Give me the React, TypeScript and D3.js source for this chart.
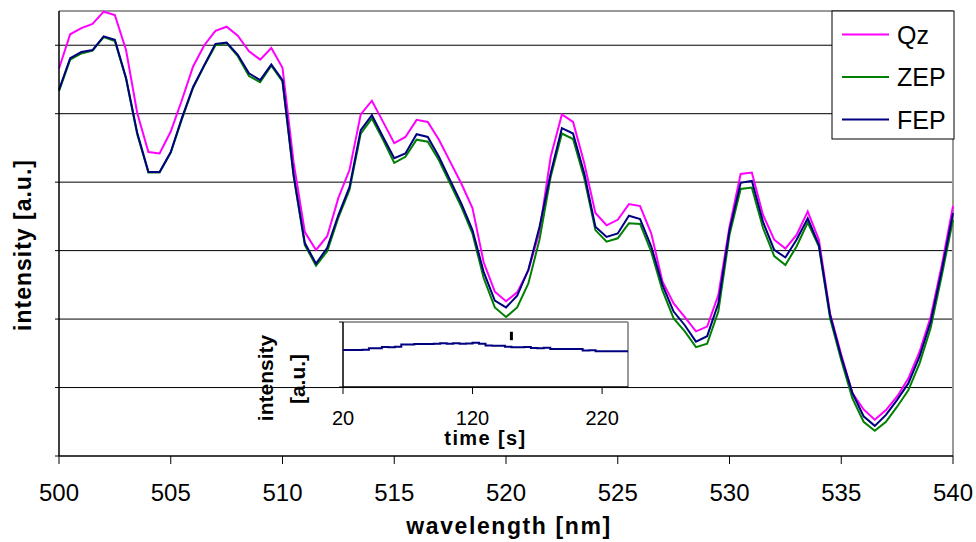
import React from "react";
import * as d3 from "d3";

// Spectral intensity of three coatings, sampled every 0.5 nm
const wavelengths: number[] = d3.range(500, 540.01, 0.5);

const qz: number[] = [
  5.66, 6.16, 6.25, 6.31, 6.49, 6.44, 5.93, 5.01, 4.44, 4.42,
  4.74, 5.2, 5.69, 6.0, 6.21, 6.27, 6.14, 5.91, 5.79, 5.96,
  5.67, 4.28, 3.27, 3.01, 3.21, 3.77, 4.18, 4.99, 5.19, 4.88,
  4.57, 4.66, 4.91, 4.88, 4.62, 4.3, 3.98, 3.62, 2.83, 2.4,
  2.26, 2.39, 2.71, 3.28, 4.37, 4.99, 4.88, 4.28, 3.55, 3.37,
  3.45, 3.68, 3.65, 3.25, 2.55, 2.23, 2.03, 1.82, 1.89, 2.35,
  3.35, 4.12, 4.14, 3.52, 3.16, 3.03, 3.23, 3.57, 3.16, 2.08,
  1.48, 0.92, 0.68, 0.53, 0.67, 0.87, 1.13, 1.52, 2.03, 2.79,
  3.65,
];

const zep: number[] = [
  5.33, 5.79, 5.88, 5.92, 6.12, 6.06, 5.51, 4.7, 4.14, 4.14,
  4.43, 4.92, 5.38, 5.7, 6.0, 6.03, 5.84, 5.55, 5.46, 5.7,
  5.47, 4.08, 3.08, 2.78, 2.99, 3.48, 3.89, 4.71, 4.93, 4.62,
  4.28, 4.37, 4.62, 4.59, 4.32, 3.98, 3.64, 3.25, 2.6, 2.17,
  2.03, 2.17, 2.52, 3.16, 4.08, 4.71, 4.63, 4.06, 3.3, 3.13,
  3.18, 3.4, 3.39, 2.98, 2.42, 2.01, 1.82, 1.59, 1.64, 2.11,
  3.23, 3.9, 3.92, 3.33, 2.92, 2.79, 3.06, 3.41, 3.06, 2.01,
  1.4, 0.84, 0.5, 0.37, 0.5, 0.72, 0.96, 1.35, 1.87, 2.64,
  3.45,
];

const fep: number[] = [
  5.35, 5.81, 5.9, 5.93, 6.13, 6.08, 5.52, 4.72, 4.15, 4.15,
  4.44, 4.94, 5.39, 5.71, 6.02, 6.04, 5.86, 5.59, 5.49, 5.72,
  5.49, 4.1, 3.11, 2.81, 3.04, 3.52, 3.93, 4.76, 4.98, 4.66,
  4.35, 4.42, 4.7, 4.66, 4.37, 4.03, 3.69, 3.3, 2.69, 2.27,
  2.17, 2.34, 2.72, 3.35, 4.13, 4.79, 4.71, 4.13, 3.35, 3.2,
  3.25, 3.51, 3.46, 3.06, 2.5, 2.11, 1.91, 1.67, 1.75, 2.23,
  3.3, 3.99, 4.02, 3.42, 3.01, 2.9, 3.16, 3.47, 3.08, 2.06,
  1.45, 0.92, 0.58, 0.44, 0.6, 0.82, 1.06, 1.45, 1.96, 2.72,
  3.55,
];

const seriesNames = ["Qz", "ZEP", "FEP"];
const seriesColors = ["#ff00ff", "#008000", "#000080"];
const seriesValues = [qz, zep, fep];

const xTicks = [500, 505, 510, 515, 520, 525, 530, 535, 540];
const yGrid = [0, 1, 2, 3, 4, 5, 6];

// Inset: intensity over time
const insetTimes: number[] = d3.range(20, 240.01, 5);
const insetValues: number[] = [
  57, 57, 57, 57.5, 59.5, 59.5, 61.5, 61, 62, 65.5,
  65.5, 66, 66, 66, 66.5, 67.5, 66.5, 67.5, 66.5, 67,
  68, 66.5, 64, 63.5, 63.5, 62, 61, 61, 61.5, 60,
  59.5, 60.5, 58.5, 58.5, 58.5, 58.5, 58.5, 56, 56.5, 55,
  55, 55, 55, 55, 55,
];
const insetTicks = [20, 120, 220];
const insetMarkTime = 150;
const insetMarkRange = [72, 85];

const FONT = "'Liberation Sans', Arial, sans-serif";

export default function App() {
  const W = 976;
  const H = 542;
  const left = 59;
  const right = 953;
  const top = 11;
  const bottom = 456;

  const x = d3.scaleLinear().domain([500, 540]).range([left, right]);
  const y = d3.scaleLinear().domain([0, 6.5]).range([bottom, top]);

  const line = (vals: number[]) =>
    d3
      .line<number>()
      .x((_, i) => x(wavelengths[i]))
      .y((d) => y(d))(vals) as string;

  // inset geometry
  const iL = 343;
  const iR = 628;
  const iT = 322;
  const iB = 387;
  const ix = d3.scaleLinear().domain([20, 240]).range([iL, iR]);
  const iy = d3.scaleLinear().domain([0, 100]).range([iB, iT]);
  const insetPath = d3
    .line<number>()
    .x((_, i) => ix(insetTimes[i]))
    .y((d) => iy(d))
    .curve(d3.curveStepAfter)(insetValues) as string;

  // legend geometry
  const lgL = 832;
  const lgT = 11;
  const lgW = 122;
  const lgH = 128;
  const lgRows = [34.5, 77, 119.5];

  return (
    <svg
      width={W}
      height={H}
      style={{ position: "absolute", left: 0, top: 0, background: "#fff" }}
      fontFamily={FONT}
    >
      <rect x={0} y={0} width={W} height={H} fill="#fff" />

      {/* horizontal grid */}
      {yGrid.slice(1).map((g) => (
        <line key={g} x1={left} x2={right} y1={y(g)} y2={y(g)} stroke="#000" strokeWidth={1} />
      ))}

      {/* plot frame: top and right in grey */}
      <line x1={left} x2={right} y1={top} y2={top} stroke="#999" strokeWidth={2} />
      <line x1={right} x2={right} y1={top} y2={bottom} stroke="#999" strokeWidth={2} />

      {/* series */}
      {seriesValues.map((vals, k) => (
        <path key={seriesNames[k]} d={line(vals)} fill="none" stroke={seriesColors[k]} strokeWidth={2} strokeLinejoin="miter" />
      ))}

      {/* y axis */}
      <line x1={left} x2={left} y1={top} y2={bottom} stroke="#000" strokeWidth={1.5} />
      {yGrid.map((g) => (
        <line key={g} x1={left - 4} x2={left} y1={y(g)} y2={y(g)} stroke="#000" strokeWidth={1} />
      ))}

      {/* x axis */}
      <line x1={left} x2={right} y1={bottom} y2={bottom} stroke="#000" strokeWidth={1.5} />
      {xTicks.map((t) => (
        <g key={t}>
          <line x1={x(t)} x2={x(t)} y1={bottom} y2={bottom + 8} stroke="#000" strokeWidth={1} />
          <text x={x(t)} y={501} fontSize={24} textAnchor="middle" fill="#000">
            {t}
          </text>
        </g>
      ))}

      <text x={509} y={534} fontSize={23} fontWeight="bold" textAnchor="middle" letterSpacing={1.6}>
        wavelength [nm]
      </text>
      <text
        transform={`translate(31,245) rotate(-90)`}
        fontSize={23}
        fontWeight="bold"
        textAnchor="middle"
        letterSpacing={1}
      >
        intensity [a.u.]
      </text>

      {/* inset */}
      <rect x={iL} y={iT} width={iR - iL} height={iB - iT} fill="#fff" />
      <line x1={iL} x2={iR} y1={iT} y2={iT} stroke="#999" strokeWidth={2} />
      <line x1={iR} x2={iR} y1={iT} y2={iB} stroke="#999" strokeWidth={2} />
      <line x1={iL} x2={iL} y1={iT} y2={iB} stroke="#000" strokeWidth={1.5} />
      <line x1={iL} x2={iR} y1={iB} y2={iB} stroke="#000" strokeWidth={1.5} />
      <line x1={iL - 4} x2={iL} y1={iT} y2={iT} stroke="#000" strokeWidth={1} />
      <line x1={iL - 4} x2={iL} y1={iB} y2={iB} stroke="#000" strokeWidth={1} />
      <path d={insetPath} fill="none" stroke="#000080" strokeWidth={2} />
      <line
        x1={ix(insetMarkTime)}
        x2={ix(insetMarkTime)}
        y1={iy(insetMarkRange[0])}
        y2={iy(insetMarkRange[1])}
        stroke="#000"
        strokeWidth={3}
      />
      {insetTicks.map((t) => (
        <g key={t}>
          <line x1={ix(t)} x2={ix(t)} y1={iB} y2={iB + 7} stroke="#000" strokeWidth={1} />
          <text x={ix(t)} y={425} fontSize={20} textAnchor="middle">
            {t}
          </text>
        </g>
      ))}
      <text x={(iL + iR) / 2} y={445} fontSize={20} fontWeight="bold" textAnchor="middle" letterSpacing={1.4}>
        time [s]
      </text>
      <text transform={`translate(273,378) rotate(-90)`} fontSize={21} fontWeight="bold" textAnchor="middle">
        intensity
      </text>
      <text transform={`translate(305,379) rotate(-90)`} fontSize={21} fontWeight="bold" textAnchor="middle">
        [a.u.]
      </text>

      {/* legend */}
      <rect x={lgL} y={lgT} width={lgW} height={lgH} fill="#fff" stroke="#000" strokeWidth={1} />
      {seriesNames.map((name, k) => (
        <g key={name}>
          <line x1={842} x2={889} y1={lgRows[k]} y2={lgRows[k]} stroke={seriesColors[k]} strokeWidth={2} />
          <text x={897} y={lgRows[k] + 9} fontSize={25} fill="#000">
            {name}
          </text>
        </g>
      ))}
    </svg>
  );
}
